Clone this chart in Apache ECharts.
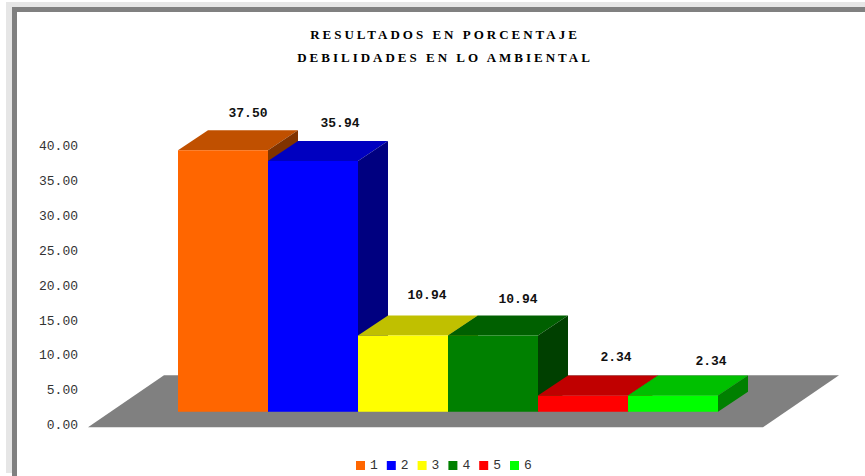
<!DOCTYPE html>
<html>
<head>
<meta charset="utf-8">
<style>
html,body{margin:0;padding:0;background:#fff;overflow:hidden}
#c{width:865px;height:476px}
#c text[style*="Liberation Serif"]{letter-spacing:3px}
</style>
<script src="https://cdn.jsdelivr.net/npm/echarts@6/dist/echarts.min.js"></script>
</head>
<body>
<div id="c"></div>
<script>
const titleLines = ['RESULTADOS EN PORCENTAJE', 'DEBILIDADES EN LO AMBIENTAL'];
const categories = ['1', '2', '3', '4', '5', '6'];
const values = [37.5, 35.94, 10.94, 10.94, 2.34, 2.34];
const yTicks = {min: 0, max: 40, interval: 5};

const faceColors = ['#ff6600', '#0000ff', '#ffff00', '#008000', '#ff0000', '#00ff00'];
const topColors = ['#c05000', '#0000c0', '#c0c000', '#006000', '#c00000', '#00c000'];
const sideColors = ['#803300', '#000080', '#808000', '#004000', '#800000', '#008000'];
const labelShiftX = [25, 27, 24, 25, 33, 38];
const labelShiftY = [-37, -38, -40, -36, -38, -34];
const DEPTH_X = 30, DEPTH_Y = 20, BASE_LIFT = 14;

function bar3d(i) {
  return function (params, api) {
    const top = api.coord([api.value(0), api.value(1)]);
    const zero = api.coord([api.value(0), 0]);
    const w = api.size([1, 0])[0];
    const x0 = top[0] - w / 2, x1 = top[0] + w / 2;
    const yT = top[1] - BASE_LIFT, yB = zero[1] - BASE_LIFT;
    const poly = (pts, fill) => ({type: 'polygon', shape: {points: pts}, style: {fill: fill, stroke: null}});
    return {type: 'group', children: [
      poly([[x0, yT], [x0 + DEPTH_X, yT - DEPTH_Y], [x1 + DEPTH_X, yT - DEPTH_Y], [x1, yT]], topColors[i]),
      poly([[x1, yT], [x1 + DEPTH_X, yT - DEPTH_Y], [x1 + DEPTH_X, yB - DEPTH_Y], [x1, yB]], sideColors[i]),
      poly([[x0, yT], [x1, yT], [x1, yB], [x0, yB]], faceColors[i]),
      {type: 'text', z2: 10, style: {
        text: api.value(1).toFixed(2),
        x: top[0] + labelShiftX[i], y: yT + labelShiftY[i],
        align: 'center', verticalAlign: 'middle',
        font: 'bold 13px "Liberation Mono"', fill: '#111'
      }}
    ]};
  };
}

function floorItem(params, api) {
  const first = api.coord([0, 0]);
  const last = api.coord([categories.length - 1, 0]);
  const w = api.size([1, 0])[0];
  const fy = first[1] + 1.5, by = first[1] - 50.5;
  return {type: 'polygon', shape: {points: [
    [first[0] - 1.5 * w, fy], [first[0] - 1.5 * w + 76, by],
    [last[0] + w + 76, by], [last[0] + w, fy]
  ]}, style: {fill: '#808080', stroke: null}};
}

const series = [{
  type: 'custom', name: 'floor', silent: true, renderItem: floorItem,
  data: [[0, 0]], encode: {x: 0, y: 1}, z: 1
}];
categories.forEach((c, i) => series.push({
  type: 'custom', name: c, renderItem: bar3d(i), z: 2,
  itemStyle: {color: faceColors[i]},
  data: [[c, values[i]]], encode: {x: 0, y: 1}
}));

const chart = echarts.init(document.getElementById('c'), null, {renderer: 'svg', width: 865, height: 476});
chart.setOption({
  animation: false,
  backgroundColor: '#fff',
  graphic: [
    {type: 'rect', z: 0, shape: {x: 6, y: 2, width: 859, height: 5}, style: {fill: '#e6e6e6'}},
    {type: 'rect', z: 0, shape: {x: 6, y: 2, width: 6, height: 471}, style: {fill: '#e6e6e6'}},
    {type: 'rect', z: 0, shape: {x: 12, y: 7, width: 853, height: 5}, style: {fill: '#808080'}},
    {type: 'rect', z: 0, shape: {x: 12, y: 7, width: 5, height: 469}, style: {fill: '#808080'}}
  ],
  title: {
    text: titleLines.join('\n'), left: 440, top: 18, textAlign: 'center',
    textStyle: {fontFamily: 'Liberation Serif', fontWeight: 'bold', fontSize: 13, lineHeight: 23, color: '#000'}
  },
  grid: {left: 178, right: 147, top: 146.7, bottom: 50.3},
  xAxis: {type: 'category', data: categories, show: false},
  yAxis: {
    type: 'value', min: yTicks.min, max: yTicks.max, interval: yTicks.interval,
    axisLine: {show: false}, axisTick: {show: false}, splitLine: {show: false},
    axisLabel: {margin: 100, fontFamily: 'Liberation Mono', fontSize: 13, color: '#333', padding: [4, 0, 0, 0], formatter: v => v.toFixed(2)}
  },
  legend: {
    data: categories, left: 356, top: 459, padding: 0, icon: 'rect', itemWidth: 9, itemHeight: 9, itemGap: 9,
    textStyle: {fontFamily: 'Liberation Mono', fontSize: 13, color: '#333', padding: [0, 0, 0, 0]}
  },
  series: series
});
</script>
</body>
</html>
